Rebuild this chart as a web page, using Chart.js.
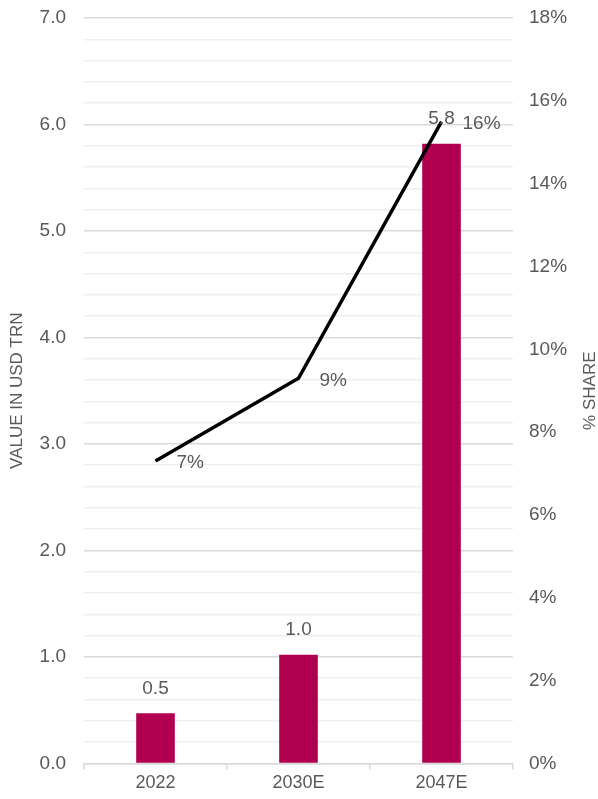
<!DOCTYPE html>
<html>
<head>
<meta charset="utf-8">
<script src="https://cdn.jsdelivr.net/npm/chart.js@4.4.0/dist/chart.umd.min.js"></script>
<style>
  html, body { margin: 0; padding: 0; background: #fff; }
  #wrap { width: 598px; height: 799px; position: relative; }
</style>
</head>
<body>
<div id="wrap"><canvas id="chart"></canvas></div>
<script>
// chart data
const categories = ['2022', '2030E', '2047E'];
const valueTrn = [0.47, 1.02, 5.82];
const valueLabels = ['0.5', '1.0', '5.8'];
const sharePct = [7.3, 9.3, 15.5];
const shareLabels = ['7%', '9%', '16%'];

const textColor = '#595959';
const fontFamily = '"Liberation Sans", Arial, sans-serif';

// draws the value labels and axis titles
const labelPlugin = {
    id: 'labelPlugin',
    afterDatasetsDraw(chart) {
        const ctx = chart.ctx;
        ctx.save();
        ctx.fillStyle = textColor;
        ctx.font = '19px ' + fontFamily;
        ctx.textAlign = 'center';
        ctx.textBaseline = 'middle';

        // dataset 1 = bars
        chart.getDatasetMeta(1).data.forEach((bar, i) => {
            ctx.fillText(valueLabels[i], bar.x, bar.y - 25);
        });

        // dataset 0 = share line
        ctx.textAlign = 'left';
        chart.getDatasetMeta(0).data.forEach((pt, i) => {
            ctx.fillText(shareLabels[i], pt.x + 21, pt.y + 2);
        });

        // axis titles, both reading bottom to top
        const area = chart.chartArea;
        const midY = (area.top + area.bottom) / 2;
        ctx.font = '17px ' + fontFamily;
        ctx.textAlign = 'center';
        ctx.translate(17, midY);
        ctx.rotate(-Math.PI / 2);
        ctx.fillText('VALUE IN USD TRN', 0, 0);
        ctx.rotate(Math.PI / 2);
        ctx.translate(-17, -midY);
        ctx.translate(590, midY);
        ctx.rotate(-Math.PI / 2);
        ctx.fillText('% SHARE', 0, 0);
        ctx.restore();
    }
};

const isWhole = v => Math.abs(v - Math.round(v)) < 1e-6;

// fixed side widths, no extra top/bottom padding from tick labels
function fitSide(width) {
    return scale => {
        scale.width = width;
        scale.paddingTop = 0;
        scale.paddingBottom = 0;
    };
}

new Chart(document.getElementById('chart'), {
    data: {
        labels: categories,
        datasets: [
            {
                type: 'line',
                label: '% share',
                data: sharePct,
                yAxisID: 'y1',
                borderColor: '#000000',
                borderWidth: 3.5,
                pointRadius: 0,
                tension: 0,
                order: 0
            },
            {
                type: 'bar',
                label: 'Value in USD trn',
                data: valueTrn,
                yAxisID: 'y',
                backgroundColor: '#B0004F',
                categoryPercentage: 1,
                barPercentage: 0.27,
                order: 1
            }
        ]
    },
    options: {
        responsive: true,
        maintainAspectRatio: false,
        animation: false,
        layout: { padding: { top: 18, bottom: 2 } },
        plugins: {
            legend: { display: false },
            tooltip: { enabled: false }
        },
        scales: {
            x: {
                offset: true,
                grid: {
                    display: true,
                    drawOnChartArea: false,
                    tickLength: 6,
                    color: '#d9d9d9',
                    lineWidth: 1.5
                },
                border: { display: true, color: '#d9d9d9', width: 1.5 },
                ticks: {
                    color: textColor,
                    font: { family: fontFamily, size: 18 },
                    padding: 3
                }
            },
            y: {
                position: 'left',
                min: 0,
                max: 7,
                afterFit: fitSide(84),
                border: { display: false },
                grid: {
                    drawTicks: false,
                    color: ctx => isWhole(ctx.tick.value) ? '#d9d9d9' : '#efefef',
                    lineWidth: 1.5
                },
                ticks: {
                    stepSize: 0.2,
                    autoSkip: false,
                    color: textColor,
                    font: { family: fontFamily, size: 19 },
                    padding: 18,
                    callback: v => isWhole(v) ? v.toFixed(1) : ''
                }
            },
            y1: {
                position: 'right',
                min: 0,
                max: 18,
                afterFit: fitSide(85),
                border: { display: false },
                grid: { drawOnChartArea: false, drawTicks: false },
                ticks: {
                    stepSize: 2,
                    color: textColor,
                    font: { family: fontFamily, size: 19 },
                    padding: 16,
                    callback: v => v + '%'
                }
            }
        }
    },
    plugins: [labelPlugin]
});
</script>
</body>
</html>
